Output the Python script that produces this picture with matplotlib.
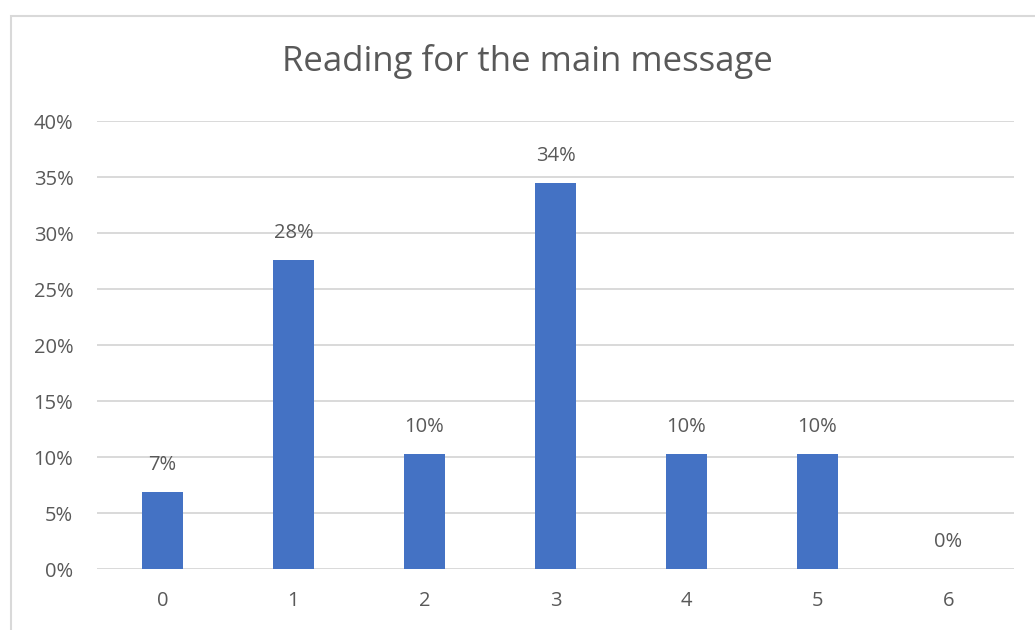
import matplotlib
matplotlib.use("Agg")
import matplotlib.pyplot as plt
from matplotlib.patches import Rectangle
from matplotlib.ticker import PercentFormatter

# share of answers per score (29 respondents)
scores = ["0", "1", "2", "3", "4", "5", "6"]
shares = [6.9, 27.6, 10.3, 34.5, 10.3, 10.3, 0.0]
labels = ["7%", "28%", "10%", "34%", "10%", "10%", "0%"]
title = "Reading for the main message"

bar_color = "#4472C4"
text_color = "#595959"
grid_color = "#D9D9D9"

plt.rcParams["font.family"] = ["Open Sans", "DejaVu Sans"]

fig = plt.figure(figsize=(10.35, 6.3), dpi=100)
ax = fig.add_axes([0.0937, 0.0968, 0.886, 0.7111])

x = range(len(scores))
ax.bar(x, shares, width=0.31, color=bar_color, zorder=3)
for xi, v, lab in zip(x, shares, labels):
    ax.annotate(lab, (xi, v), xytext=(0, 19.5), textcoords="offset points",
                ha="center", va="center", fontsize=14.5, color=text_color)

ax.set_xlim(-0.5, len(scores) - 0.5)
ax.set_ylim(0, 40)
ax.set_yticks(range(0, 41, 5))
ax.yaxis.set_major_formatter(PercentFormatter(decimals=0))
ax.set_xticks(list(x))
ax.set_xticklabels(scores)
ax.tick_params(length=0, labelsize=14.5, colors=text_color)
ax.tick_params(axis="y", pad=17)
ax.tick_params(axis="x", pad=16)
ax.grid(axis="y", color=grid_color, linewidth=1.4, zorder=0)
for s in ax.spines.values():
    s.set_visible(False)

fig.text(0.51, 0.902, title, ha="center", va="center", fontsize=25, color=text_color)

# outer chart border (cropped screenshot, only left and top edges visible)
fig.patches.append(Rectangle((0.0106, -0.1), 2, 1.0746, transform=fig.transFigure,
                             fill=False, edgecolor=grid_color, linewidth=1.5))

fig.savefig("out.png", dpi=100, facecolor="white")
